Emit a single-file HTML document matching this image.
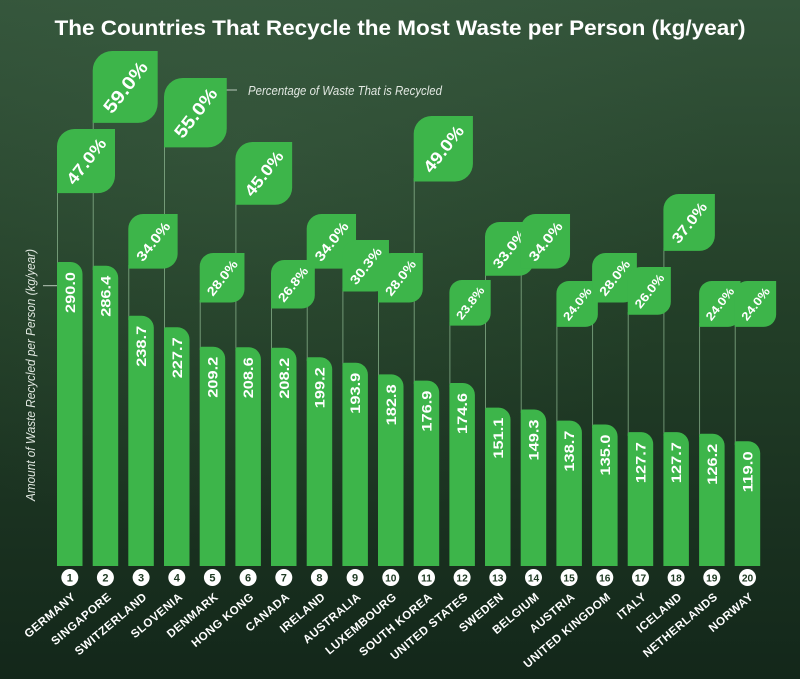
<!DOCTYPE html>
<html><head><meta charset="utf-8">
<style>
html,body{margin:0;padding:0;background:#1c3521;}
svg{display:block;}
text{font-family:"Liberation Sans",Arial,sans-serif;}
</style></head>
<body>
<svg width="800" height="679" viewBox="0 0 800 679" xmlns="http://www.w3.org/2000/svg">
<defs>
<linearGradient id="bg" x1="0" y1="0" x2="0" y2="1">
<stop offset="0" stop-color="#33543a"/>
<stop offset="0.45" stop-color="#233f28"/>
<stop offset="1" stop-color="#13271a"/>
</linearGradient>
<radialGradient id="glow" cx="0.3" cy="0.2" r="0.6">
<stop offset="0" stop-color="#4a6e50" stop-opacity="0.25"/>
<stop offset="1" stop-color="#4a6e50" stop-opacity="0"/>
</radialGradient>
<path id="leaf" d="M0,9.36 L0,2.54 A2.54,2.54 0 0 1 2.54,0 L8.46,0 L8.46,6.82 A2.54,2.54 0 0 1 5.92,9.36 Z" fill="#3db54a"/>
</defs>
<rect width="800" height="679" fill="url(#bg)"/>
<rect width="800" height="679" fill="url(#glow)"/>

<!-- Title -->
<text x="400" y="35" text-anchor="middle" font-size="21" font-weight="bold" fill="#ffffff" textLength="691" lengthAdjust="spacingAndGlyphs">The Countries That Recycle the Most Waste per Person (kg/year)</text>

<!-- annotation -->
<line x1="224" y1="90" x2="237" y2="90" stroke="#b9c9bb" stroke-width="1"/>
<text x="248" y="95" font-size="13" font-style="italic" fill="#e2e8e2" textLength="194" lengthAdjust="spacingAndGlyphs">Percentage of Waste That is Recycled</text>

<!-- y axis label -->
<text transform="translate(35,375) rotate(-90)" text-anchor="middle" font-size="13" font-style="italic" fill="#dfe6df" textLength="252" lengthAdjust="spacingAndGlyphs">Amount of Waste Recycled per Person (kg/year)</text>
<line x1="43" y1="285.7" x2="57" y2="285.7" stroke="#b9c9bb" stroke-width="1"/>

<!-- guide lines -->
<g stroke="#9cc79f" stroke-opacity="0.7" stroke-width="0.9">
<line x1="57.5" y1="190" x2="57.5" y2="266"/>
<line x1="93.2" y1="120" x2="93.2" y2="270"/>
<line x1="128.8" y1="265" x2="128.8" y2="320"/>
<line x1="164.5" y1="145" x2="164.5" y2="331"/>
<line x1="200.2" y1="300" x2="200.2" y2="350"/>
<line x1="235.9" y1="202" x2="235.9" y2="351"/>
<line x1="271.5" y1="305" x2="271.5" y2="351"/>
<line x1="307.2" y1="265" x2="307.2" y2="361"/>
<line x1="342.9" y1="288" x2="342.9" y2="366"/>
<line x1="378.5" y1="300" x2="378.5" y2="378"/>
<line x1="414.2" y1="178" x2="414.2" y2="384"/>
<line x1="449.9" y1="322" x2="449.9" y2="387"/>
<line x1="485.5" y1="272" x2="485.5" y2="411"/>
<line x1="521.2" y1="265" x2="521.2" y2="413"/>
<line x1="556.9" y1="323" x2="556.9" y2="424"/>
<line x1="592.6" y1="300" x2="592.6" y2="428"/>
<line x1="628.2" y1="312" x2="628.2" y2="436"/>
<line x1="663.9" y1="248" x2="663.9" y2="436"/>
<line x1="699.6" y1="323" x2="699.6" y2="437"/>
<line x1="735.2" y1="323" x2="735.2" y2="445"/>
</g>

<!-- bars -->
<g fill="#3db54a">
<path d="M57,566 V264 q0,-2 2,-2 h11.5 a12,12 0 0 1 12,12 V566 z"/>
<path d="M92.7,566 V267.8 q0,-2 2,-2 h11.5 a12,12 0 0 1 12,12 V566 z"/>
<path d="M128.3,566 V317.8 q0,-2 2,-2 h11.5 a12,12 0 0 1 12,12 V566 z"/>
<path d="M164,566 V329.3 q0,-2 2,-2 h11.5 a12,12 0 0 1 12,12 V566 z"/>
<path d="M199.7,566 V348.7 q0,-2 2,-2 h11.5 a12,12 0 0 1 12,12 V566 z"/>
<path d="M235.4,566 V349.3 q0,-2 2,-2 h11.5 a12,12 0 0 1 12,12 V566 z"/>
<path d="M271,566 V349.7 q0,-2 2,-2 h11.5 a12,12 0 0 1 12,12 V566 z"/>
<path d="M306.7,566 V359.2 q0,-2 2,-2 h11.5 a12,12 0 0 1 12,12 V566 z"/>
<path d="M342.4,566 V364.7 q0,-2 2,-2 h11.5 a12,12 0 0 1 12,12 V566 z"/>
<path d="M378,566 V376.4 q0,-2 2,-2 h11.5 a12,12 0 0 1 12,12 V566 z"/>
<path d="M413.7,566 V382.6 q0,-2 2,-2 h11.5 a12,12 0 0 1 12,12 V566 z"/>
<path d="M449.4,566 V385 q0,-2 2,-2 h11.5 a12,12 0 0 1 12,12 V566 z"/>
<path d="M485,566 V409.6 q0,-2 2,-2 h11.5 a12,12 0 0 1 12,12 V566 z"/>
<path d="M520.7,566 V411.5 q0,-2 2,-2 h11.5 a12,12 0 0 1 12,12 V566 z"/>
<path d="M556.4,566 V422.6 q0,-2 2,-2 h11.5 a12,12 0 0 1 12,12 V566 z"/>
<path d="M592.1,566 V426.5 q0,-2 2,-2 h11.5 a12,12 0 0 1 12,12 V566 z"/>
<path d="M627.7,566 V434.1 q0,-2 2,-2 h11.5 a12,12 0 0 1 12,12 V566 z"/>
<path d="M663.4,566 V434.1 q0,-2 2,-2 h11.5 a12,12 0 0 1 12,12 V566 z"/>
<path d="M699.1,566 V435.7 q0,-2 2,-2 h11.5 a12,12 0 0 1 12,12 V566 z"/>
<path d="M734.7,566 V443.3 q0,-2 2,-2 h11.5 a12,12 0 0 1 12,12 V566 z"/>
</g>

<!-- bar values -->
<g fill="#ffffff" font-size="14" font-weight="bold" text-anchor="end">
<text transform="translate(74.8,272) rotate(-90)" textLength="41" lengthAdjust="spacingAndGlyphs">290.0</text>
<text transform="translate(110.4,275.8) rotate(-90)" textLength="41" lengthAdjust="spacingAndGlyphs">286.4</text>
<text transform="translate(146.1,325.8) rotate(-90)" textLength="41" lengthAdjust="spacingAndGlyphs">238.7</text>
<text transform="translate(181.8,337.3) rotate(-90)" textLength="41" lengthAdjust="spacingAndGlyphs">227.7</text>
<text transform="translate(217.4,356.7) rotate(-90)" textLength="41" lengthAdjust="spacingAndGlyphs">209.2</text>
<text transform="translate(253.1,357.3) rotate(-90)" textLength="41" lengthAdjust="spacingAndGlyphs">208.6</text>
<text transform="translate(288.8,357.7) rotate(-90)" textLength="41" lengthAdjust="spacingAndGlyphs">208.2</text>
<text transform="translate(324.4,367.2) rotate(-90)" textLength="41" lengthAdjust="spacingAndGlyphs">199.2</text>
<text transform="translate(360.1,372.7) rotate(-90)" textLength="41" lengthAdjust="spacingAndGlyphs">193.9</text>
<text transform="translate(395.8,384.4) rotate(-90)" textLength="41" lengthAdjust="spacingAndGlyphs">182.8</text>
<text transform="translate(431.5,390.6) rotate(-90)" textLength="41" lengthAdjust="spacingAndGlyphs">176.9</text>
<text transform="translate(467.1,393) rotate(-90)" textLength="41" lengthAdjust="spacingAndGlyphs">174.6</text>
<text transform="translate(502.8,417.6) rotate(-90)" textLength="41" lengthAdjust="spacingAndGlyphs">151.1</text>
<text transform="translate(538.5,419.5) rotate(-90)" textLength="41" lengthAdjust="spacingAndGlyphs">149.3</text>
<text transform="translate(574.1,430.6) rotate(-90)" textLength="41" lengthAdjust="spacingAndGlyphs">138.7</text>
<text transform="translate(609.8,434.5) rotate(-90)" textLength="41" lengthAdjust="spacingAndGlyphs">135.0</text>
<text transform="translate(645.5,442.1) rotate(-90)" textLength="41" lengthAdjust="spacingAndGlyphs">127.7</text>
<text transform="translate(681.1,442.1) rotate(-90)" textLength="41" lengthAdjust="spacingAndGlyphs">127.7</text>
<text transform="translate(716.8,443.7) rotate(-90)" textLength="41" lengthAdjust="spacingAndGlyphs">126.2</text>
<text transform="translate(752.5,451.3) rotate(-90)" textLength="41" lengthAdjust="spacingAndGlyphs">119.0</text>
</g>

<!-- leaves + percentage text -->
<g fill="#ffffff" font-weight="bold" text-anchor="middle">
<use href="#leaf" transform="translate(57,129) scale(6.856)"/>
<text transform="translate(86,161.1) rotate(-52)" font-size="16.5" dy="0.36em" textLength="53.5" lengthAdjust="spacingAndGlyphs">47.0%</text>
<use href="#leaf" transform="translate(92.7,51) scale(7.681)"/>
<text transform="translate(125.2,87) rotate(-52)" font-size="18.4" dy="0.36em" textLength="60" lengthAdjust="spacingAndGlyphs">59.0%</text>
<use href="#leaf" transform="translate(128.3,214) scale(5.831)"/>
<text transform="translate(153,241.3) rotate(-52)" font-size="14" dy="0.36em" textLength="45.5" lengthAdjust="spacingAndGlyphs">34.0%</text>
<use href="#leaf" transform="translate(164,78) scale(7.416)"/>
<text transform="translate(195.4,112.7) rotate(-52)" font-size="17.8" dy="0.36em" textLength="58" lengthAdjust="spacingAndGlyphs">55.0%</text>
<use href="#leaf" transform="translate(199.7,253) scale(5.292)"/>
<text transform="translate(222.1,277.8) rotate(-52)" font-size="12.7" dy="0.36em" textLength="41.3" lengthAdjust="spacingAndGlyphs">28.0%</text>
<use href="#leaf" transform="translate(235.4,142) scale(6.708)"/>
<text transform="translate(263.8,173.4) rotate(-52)" font-size="16.1" dy="0.36em" textLength="52.3" lengthAdjust="spacingAndGlyphs">45.0%</text>
<use href="#leaf" transform="translate(271,260) scale(5.177)"/>
<text transform="translate(292.9,284.3) rotate(-52)" font-size="12.4" dy="0.36em" textLength="40.4" lengthAdjust="spacingAndGlyphs">26.8%</text>
<use href="#leaf" transform="translate(306.7,214) scale(5.831)"/>
<text transform="translate(331.4,241.3) rotate(-52)" font-size="14" dy="0.36em" textLength="45.5" lengthAdjust="spacingAndGlyphs">34.0%</text>
<use href="#leaf" transform="translate(342.4,240) scale(5.505)"/>
<text transform="translate(365.7,265.8) rotate(-52)" font-size="13.2" dy="0.36em" textLength="42.9" lengthAdjust="spacingAndGlyphs">30.3%</text>
<use href="#leaf" transform="translate(378,253) scale(5.292)"/>
<text transform="translate(400.4,277.8) rotate(-52)" font-size="12.7" dy="0.36em" textLength="41.3" lengthAdjust="spacingAndGlyphs">28.0%</text>
<use href="#leaf" transform="translate(413.7,116) scale(7)"/>
<text transform="translate(443.3,148.8) rotate(-52)" font-size="16.8" dy="0.36em" textLength="54.6" lengthAdjust="spacingAndGlyphs">49.0%</text>
<use href="#leaf" transform="translate(449.4,280) scale(4.879)"/>
<text transform="translate(470.1,302.9) rotate(-52)" font-size="11.7" dy="0.36em" textLength="38" lengthAdjust="spacingAndGlyphs">23.8%</text>
<use href="#leaf" transform="translate(485,222) scale(5.745)"/>
<text transform="translate(509.3,248.9) rotate(-52)" font-size="13.8" dy="0.36em" textLength="44.8" lengthAdjust="spacingAndGlyphs">33.0%</text>
<use href="#leaf" transform="translate(520.7,214) scale(5.831)"/>
<text transform="translate(545.4,241.3) rotate(-52)" font-size="14" dy="0.36em" textLength="45.5" lengthAdjust="spacingAndGlyphs">34.0%</text>
<use href="#leaf" transform="translate(556.4,281) scale(4.899)"/>
<text transform="translate(577.1,303.9) rotate(-52)" font-size="11.8" dy="0.36em" textLength="38.2" lengthAdjust="spacingAndGlyphs">24.0%</text>
<use href="#leaf" transform="translate(592.1,253) scale(5.292)"/>
<text transform="translate(614.5,277.8) rotate(-52)" font-size="12.7" dy="0.36em" textLength="41.3" lengthAdjust="spacingAndGlyphs">28.0%</text>
<use href="#leaf" transform="translate(627.7,267) scale(5.099)"/>
<text transform="translate(649.3,290.9) rotate(-52)" font-size="12.2" dy="0.36em" textLength="39.8" lengthAdjust="spacingAndGlyphs">26.0%</text>
<use href="#leaf" transform="translate(663.4,194) scale(6.083)"/>
<text transform="translate(689.2,222.5) rotate(-52)" font-size="14.6" dy="0.36em" textLength="47.4" lengthAdjust="spacingAndGlyphs">37.0%</text>
<use href="#leaf" transform="translate(699.1,281) scale(4.899)"/>
<text transform="translate(719.8,303.9) rotate(-52)" font-size="11.8" dy="0.36em" textLength="38.2" lengthAdjust="spacingAndGlyphs">24.0%</text>
<use href="#leaf" transform="translate(734.7,281) scale(4.899)"/>
<text transform="translate(755.4,303.9) rotate(-52)" font-size="11.8" dy="0.36em" textLength="38.2" lengthAdjust="spacingAndGlyphs">24.0%</text>
</g>

<!-- rank circles -->
<g fill="#ffffff">
<circle cx="69.8" cy="577.5" r="8.5"/><circle cx="105.4" cy="577.5" r="8.5"/><circle cx="141.1" cy="577.5" r="8.5"/><circle cx="176.8" cy="577.5" r="8.5"/><circle cx="212.4" cy="577.5" r="8.5"/>
<circle cx="248.1" cy="577.5" r="8.5"/><circle cx="283.8" cy="577.5" r="8.5"/><circle cx="319.4" cy="577.5" r="8.5"/><circle cx="355.1" cy="577.5" r="8.5"/><circle cx="390.8" cy="577.5" r="8.5"/>
<circle cx="426.5" cy="577.5" r="8.5"/><circle cx="462.1" cy="577.5" r="8.5"/><circle cx="497.8" cy="577.5" r="8.5"/><circle cx="533.5" cy="577.5" r="8.5"/><circle cx="569.1" cy="577.5" r="8.5"/>
<circle cx="604.8" cy="577.5" r="8.5"/><circle cx="640.5" cy="577.5" r="8.5"/><circle cx="676.1" cy="577.5" r="8.5"/><circle cx="711.8" cy="577.5" r="8.5"/><circle cx="747.5" cy="577.5" r="8.5"/>
</g>
<g fill="#1d3a22" font-size="11" font-weight="bold" text-anchor="middle">
<text x="69.8" y="581.5">1</text><text x="105.4" y="581.5">2</text><text x="141.1" y="581.5">3</text><text x="176.8" y="581.5">4</text><text x="212.4" y="581.5">5</text>
<text x="248.1" y="581.5">6</text><text x="283.8" y="581.5">7</text><text x="319.4" y="581.5">8</text><text x="355.1" y="581.5">9</text><text x="390.8" y="581.3" font-size="10.2">10</text>
<text x="426.5" y="581.3" font-size="10.2">11</text><text x="462.1" y="581.3" font-size="10.2">12</text><text x="497.8" y="581.3" font-size="10.2">13</text><text x="533.5" y="581.3" font-size="10.2">14</text><text x="569.1" y="581.3" font-size="10.2">15</text>
<text x="604.8" y="581.3" font-size="10.2">16</text><text x="640.5" y="581.3" font-size="10.2">17</text><text x="676.1" y="581.3" font-size="10.2">18</text><text x="711.8" y="581.3" font-size="10.2">19</text><text x="747.5" y="581.3" font-size="10.2">20</text>
</g>

<!-- country labels -->
<g fill="#ffffff" font-size="11.6" font-weight="bold" text-anchor="end" letter-spacing="0.5">
<text transform="translate(76.4,598) rotate(-40)">GERMANY</text>
<text transform="translate(112,598) rotate(-40)">SINGAPORE</text>
<text transform="translate(147.7,598) rotate(-40)">SWITZERLAND</text>
<text transform="translate(183.4,598) rotate(-40)">SLOVENIA</text>
<text transform="translate(219,598) rotate(-40)">DENMARK</text>
<text transform="translate(254.7,598) rotate(-40)">HONG KONG</text>
<text transform="translate(290.4,598) rotate(-40)">CANADA</text>
<text transform="translate(326,598) rotate(-40)">IRELAND</text>
<text transform="translate(361.7,598) rotate(-40)">AUSTRALIA</text>
<text transform="translate(397.4,598) rotate(-40)">LUXEMBOURG</text>
<text transform="translate(433.1,598) rotate(-40)">SOUTH KOREA</text>
<text transform="translate(468.7,598) rotate(-40)">UNITED STATES</text>
<text transform="translate(504.4,598) rotate(-40)">SWEDEN</text>
<text transform="translate(540.1,598) rotate(-40)">BELGIUM</text>
<text transform="translate(575.7,598) rotate(-40)">AUSTRIA</text>
<text transform="translate(611.4,598) rotate(-40)">UNITED KINGDOM</text>
<text transform="translate(647.1,598) rotate(-40)">ITALY</text>
<text transform="translate(682.7,598) rotate(-40)">ICELAND</text>
<text transform="translate(718.4,598) rotate(-40)">NETHERLANDS</text>
<text transform="translate(754.1,598) rotate(-40)">NORWAY</text>
</g>
</svg>
</body></html>
